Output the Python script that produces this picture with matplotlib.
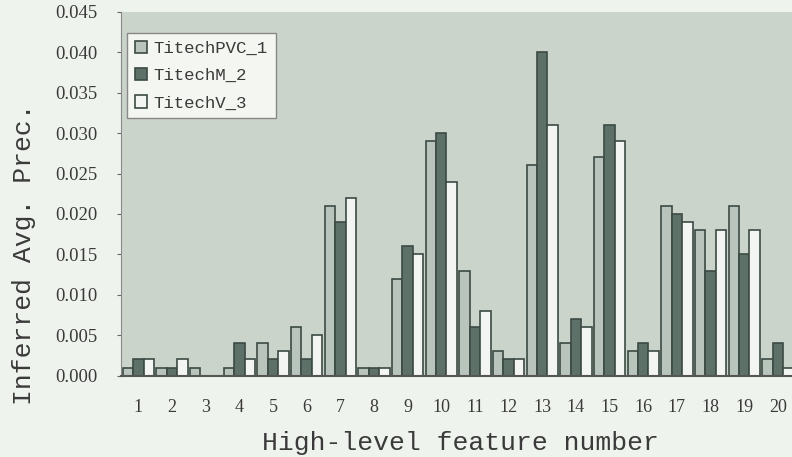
import numpy as np
import matplotlib.pyplot as plt

features = [str(i) for i in range(1, 21)]
pvc_1 = [0.001, 0.001, 0.001, 0.001, 0.004, 0.006, 0.021, 0.001, 0.012, 0.029,
         0.013, 0.003, 0.026, 0.004, 0.027, 0.003, 0.021, 0.018, 0.021, 0.002]
m_2 = [0.002, 0.001, 0.000, 0.004, 0.002, 0.002, 0.019, 0.001, 0.016, 0.030,
       0.006, 0.002, 0.040, 0.007, 0.031, 0.004, 0.020, 0.013, 0.015, 0.004]
v_3 = [0.002, 0.002, 0.000, 0.002, 0.003, 0.005, 0.022, 0.001, 0.015, 0.024,
       0.008, 0.002, 0.031, 0.006, 0.029, 0.003, 0.019, 0.018, 0.018, 0.001]
yticks = [0.000, 0.005, 0.010, 0.015, 0.020, 0.025, 0.030, 0.035, 0.040, 0.045]

fig = plt.figure(figsize=(7.92, 4.57), dpi=100, facecolor='#eff3ed')
ax = fig.add_axes([0.1534, 0.178, 0.85, 0.796])
ax.set_facecolor('#cbd4cb')

x = np.arange(1, len(features) + 1)
w = 0.31
edge = '#3c4a44'
ax.bar(x - w, pvc_1, w, color='#b9c4bc', edgecolor=edge, lw=1.2, label='TitechPVC_1')
ax.bar(x, m_2, w, color='#5d7168', edgecolor=edge, lw=1.2, label='TitechM_2')
ax.bar(x + w, v_3, w, color='#f2f5f1', edgecolor=edge, lw=1.2, label='TitechV_3')

ax.set_xlim(0.5, 20.5)
ax.set_ylim(0, 0.045)
ax.set_xticks(x)
ax.set_xticklabels(features, fontfamily='Liberation Serif', fontsize=13, color='#3a3a3a')
ax.set_yticks(yticks)
ax.set_yticklabels([f'{t:.3f}' for t in yticks], fontfamily='Liberation Serif',
                   fontsize=13.5, color='#3a3a3a')
ax.tick_params(axis='x', length=0, pad=17)
ax.tick_params(axis='y', length=3, color='#666666', pad=14)
for s in ['top', 'right']:
    ax.spines[s].set_visible(False)
ax.spines['left'].set_color('#888888')
ax.spines['bottom'].set_color('#555555')
ax.spines['bottom'].set_linewidth(1.5)

ax.set_xlabel('High-level feature number', fontfamily='Liberation Mono',
              fontsize=19, color='#3a3a3a')
ax.set_ylabel('Inferred Avg. Prec.', fontfamily='Liberation Mono',
              fontsize=19, color='#3a3a3a')
ax.xaxis.set_label_coords(0.503, -0.153)
ax.yaxis.set_label_coords(-0.127, 0.335)

leg = ax.legend(loc='upper left', bbox_to_anchor=(0.008, 0.942), borderaxespad=0,
                prop={'family': 'Liberation Mono', 'size': 12.5},
                frameon=True, fancybox=False, handlelength=0.7, handleheight=0.7,
                handletextpad=0.4, labelspacing=0.7, borderpad=0.45)
leg.get_frame().set_facecolor('#f4f6f2')
leg.get_frame().set_edgecolor('#888888')
leg.get_frame().set_alpha(1)
for t in leg.get_texts():
    t.set_color('#3a3a3a')

fig.savefig('out.png', dpi=100, facecolor=fig.get_facecolor())
